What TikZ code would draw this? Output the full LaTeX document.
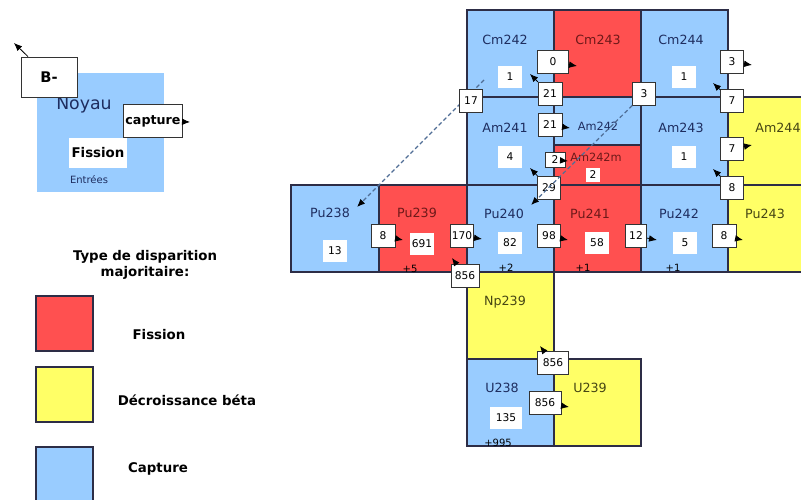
\documentclass[tikz,border=0pt]{standalone}
\usepackage{fontspec}
\setmainfont{DejaVu Sans}
\usepackage{xcolor}
\usetikzlibrary{arrows.meta}
\definecolor{capt}{RGB}{153,204,255}
\definecolor{fiss}{RGB}{255,80,80}
\definecolor{beta}{RGB}{255,255,102}
\definecolor{inkc}{RGB}{30,45,95}
\definecolor{inkf}{RGB}{110,25,25}
\definecolor{inkb}{RGB}{70,70,20}
\definecolor{rim}{RGB}{45,45,70}
\definecolor{alphac}{RGB}{80,110,150}
\begin{document}
\begin{tikzpicture}[x=0.75pt,y=-0.75pt,
  cell/.style={draw=rim,line width=0.8pt},
  iso/.style={font=\fontsize{9.5}{11}\selectfont},
  tally/.style={fill=white,inner sep=1pt,minimum width=18pt,minimum height=17pt,font=\fontsize{8}{9}\selectfont},
  flux/.style={draw=black!80,fill=white,line width=0.6pt,inner sep=1pt,minimum height=17.5pt,font=\fontsize{8}{9}\selectfont},
  head/.style={-{Latex[length=6pt,width=5pt]},line width=0.6pt},
  alphaline/.style={draw=alphac,dash pattern=on 3pt off 2pt,line width=0.9pt,-{Latex[length=6pt,width=5pt,color=black]}},
  gain/.style={font=\fontsize{7.5}{8}\selectfont},
  leg/.style={font=\bfseries\fontsize{10}{12}\selectfont},
  legbox/.style={draw=black!80,fill=white,line width=0.6pt,inner sep=0pt}]
  \useasboundingbox (0,0) rectangle (801,500);
  % chart cells
  \foreach \xa/\ya/\xb/\yb/\c in {467/10/554/97/capt, 554/10/641/97/fiss, 641/10/728/97/capt,
    467/97/554/185/capt, 554/97/641/145/capt, 554/145/641/185/fiss, 641/97/728/185/capt, 728/97/815/185/beta,
    291/185/379/272/capt, 379/185/467/272/fiss, 467/185/554/272/capt, 554/185/641/272/fiss, 641/185/728/272/capt, 728/185/815/272/beta,
    467/272/554/359/beta, 467/359/554/446/capt, 554/359/641/446/beta}
    \draw[cell,fill=\c] (\xa,\ya) rectangle (\xb,\yb);
  \foreach \n/\x/\y/\c in {Cm242/505/40/inkc, Cm243/598/40/inkf, Cm244/681/40/inkc, Am241/505/128/inkc,
    Am243/681/128/inkc, Am244/778/128/inkb, Pu238/330/213/inkc, Pu239/417/213/inkf, Pu240/504/214/inkc,
    Pu241/590/214/inkf, Pu242/679/214/inkc, Pu243/765/214/inkb, Np239/505/302/inkb, U238/502/388/inkc, U239/590/388/inkb}
    \node[iso,text=\c] (\n) at (\x,\y) {\n};
  \node[iso,text=inkc,font=\fontsize{8.5}{10}\selectfont] (Am242) at (598,126) {Am242};
  \node[iso,text=inkf,font=\fontsize{8.5}{10}\selectfont] (Am242m) at (596,157) {Am242m};
  % quantities
  \foreach \n/\x/\y/\v in {Cm242/510/77/1, Cm244/684/77/1, Am241/510/157/4, Am243/684/157/1, Pu238/335/251/13,
    Pu239/422/244/691, Pu240/510/243/82, Pu241/597/243/58, Pu242/685/243/5}
    \node[tally] (c\n) at (\x,\y) {\v};
  \node[tally,minimum width=24pt] (cU238) at (506,418) {135};
  \node[tally,minimum width=11pt,minimum height=11pt] (cAm242m) at (593,175) {2};
  \foreach \x/\y/\v in {410/269/+5, 506/268/+2, 583/268/+1, 673/268/+1, 498/443/+995}
    \node[gain] (g\x) at (\x,\y) {\v};
  % flows
  \foreach \n/\x/\y/\v/\tx/\ty/\w/\h in {a/553/62/0/577/66/23/17.5, b/550/94/21/530/74/18/17.5, c/550/125/21/570/128/18/17.5,
    d/555/160/2/568/161/15/11, e/549/188/29/530/168/17/17.5, g/732/62/3/752/65/17/17.5, h/732/101/7/713/83/17/17.5,
    i/732/149/7/752/145/17/17.5, j/732/188/8/713/169/17/17.5, k/383/236/8/403/240/18/17.5, l/462/236/170/482/239/17/17.5,
    m/465/276/856/452/258/21/17.5, n/549/236/98/568/240/17/17.5, o/636/236/12/657/240/16/17.5, p/724/236/8/743/240/18/17.5,
    q/553/363/856/540/346/23/17.5, r/545/403/856/569/407/24/17.5}{
    \node[flux,minimum width=\w pt,minimum height=\h pt] (f\n) at (\x,\y) {\v};
    \coordinate (t\n) at (\tx,\ty);
    \draw[head] (f\n) -- (t\n);
  }
  % alpha decays
  \coordinate (s17) at (484,80);
  \coordinate (t17) at (357,207);
  \draw[alphaline] (s17) -- (t17);
  \node[flux,minimum width=17pt] (f17) at (471,101) {17};
  \node[flux,minimum width=17pt] (f3) at (644,94) {3};
  \coordinate (t3) at (531,205);
  \draw[alphaline] (f3) -- (t3);
  % key: one nucleus
  \fill[capt] (37,73) rectangle (164,192);
  \node[text=inkc,font=\fontsize{13}{15}\selectfont] (noyau) at (84,105) {Noyau};
  \node[fill=white,minimum width=43pt,minimum height=22pt,inner sep=0pt,font=\bfseries\fontsize{10}{12}\selectfont] (fis) at (98,153) {Fission};
  \node[text=inkc,font=\fontsize{7.5}{9}\selectfont] (entr) at (89,180) {Entrées};
  \node[legbox,minimum width=42pt,minimum height=30pt,font=\bfseries\fontsize{11}{13}\selectfont] (bm) at (49,77) {B-\hspace{4pt}};
  \coordinate (bout) at (14,43);
  \draw[head] (bm) -- (bout);
  \node[legbox,minimum width=44pt,minimum height=25pt,font=\bfseries\fontsize{9.5}{11}\selectfont] (cap) at (153,121) {capture};
  \coordinate (capout) at (190,122);
  \draw[head] (cap) -- (capout);
  % key: colours
  \node[leg,align=center] (type) at (145,265) {Type de disparition\\majoritaire:};
  \draw[cell,fill=fiss] (36,296) rectangle (93,351);
  \draw[cell,fill=beta] (36,367) rectangle (93,422);
  \draw[cell,fill=capt] (36,447) rectangle (93,505);
  \node[leg] (lfis) at (159,335) {Fission};
  \node[leg] (lbet) at (187,400) {Décroissance béta};
  \node[leg] (lcap) at (158,469) {Capture};
\end{tikzpicture}
\end{document}
